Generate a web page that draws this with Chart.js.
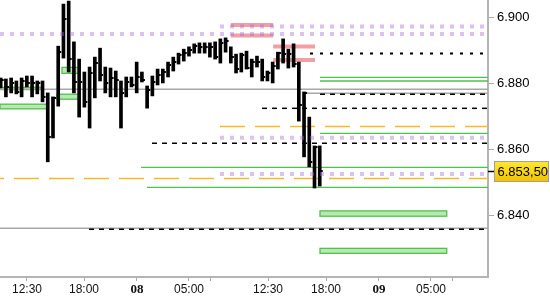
<!DOCTYPE html>
<html><head><meta charset="utf-8">
<script src="https://cdn.jsdelivr.net/npm/chart.js@4"></script>
<style>html,body{margin:0;padding:0;background:#fff}</style>
</head><body>
<canvas id="c" width="550" height="300"></canvas>
<script>
// OHLC bars (30-min), price points
const highs = [6881.6,6881.3,6881.6,6880.7,6881.6,6882.2,6882.2,6880.7,6880.7,6877.1,
  6875.9,6891.2,6903.9,6904.8,6892.5,6887.3,6883.4,6884.9,6887.9,6890.6,
  6884.9,6884.6,6883.7,6880.7,6881.9,6881.9,6886.4,6883.4,6879.2,6882.2,
  6884.3,6884.3,6886.4,6887.9,6889.1,6890.3,6891.0,6891.9,6892.2,6892.2,
  6892.2,6892.5,6893.4,6893.7,6891.0,6888.8,6889.1,6889.7,6887.3,6888.2,
  6887.3,6883.7,6886.4,6889.4,6893.4,6890.3,6891.9,6886.4,6877.4,6869.8,
  6861.1,6861.1];
const lows = [6878.6,6875.9,6877.1,6876.8,6875.9,6878.9,6875.9,6876.8,6874.4,6856.3,
  6863.5,6873.1,6887.6,6883.4,6877.1,6869.8,6872.8,6866.5,6875.6,6880.7,
  6877.1,6875.9,6875.9,6866.5,6875.9,6878.9,6877.1,6880.4,6872.5,6876.2,
  6879.5,6880.1,6881.9,6883.7,6885.8,6886.7,6888.2,6889.1,6889.1,6889.1,
  6887.9,6887.3,6886.1,6889.4,6886.1,6883.1,6883.4,6884.3,6881.9,6884.9,
  6880.7,6880.7,6880.1,6884.3,6886.1,6884.6,6884.9,6868.6,6857.8,6854.8,
  6848.4,6849.0];
const closes = [6881.0,6878.9,6880.1,6877.4,6880.7,6880.1,6880.1,6880.1,6875.9,6863.8,
  6875.6,6889.4,6899.4,6887.3,6880.4,6880.4,6874.4,6883.1,6886.1,6882.5,
  6880.1,6881.6,6881.0,6877.1,6880.4,6879.5,6881.9,6881.0,6878.0,6880.4,
  6882.5,6883.4,6885.5,6886.4,6888.5,6889.1,6890.0,6891.2,6891.0,6891.0,
  6891.0,6887.9,6892.2,6892.8,6887.9,6884.3,6888.5,6884.6,6886.4,6886.4,
  6881.9,6883.1,6885.2,6889.1,6888.8,6888.8,6885.8,6873.5,6877.1,6856.3,
  6860.9,6853.5];
const lastPrice = 6853.5;

const yTicks = [6840, 6860, 6880, 6900];
const xTickPos = [5.03, 15.93, 26.06, 36.0, 40.02, 51.11, 62.2, 72.33, 82.27, 86.29];
const xTickLabels = ['12:30','18:00','08','05:00','','12:30','18:00','09','05:00',''];
const xTickBold = [false,false,true,false,false,false,false,true,false,false];
const xRange = [-0.13, 93.17];
const yRange = [6821.56, 6905.13];

// horizontal levels: [price, fromBar, toBar]
const xs = xRange[0], xe = xRange[1];
const purpleLevels = [[6894.9, xs, xe], [6897.1, 41.93, xe], [6863.6, 41.93, xe], [6852.6, 41.93, xe]];
const pinkLevels = [[6897.6, 44.0, 52.1], [6894.4, 44.0, 52.1], [6891.1, 52.1, 60.1], [6887.0, 52.1, 60.1]];
const greenLevels = [[6881.8, 61.05, xe], [6880.7, 61.05, xe], [6864.9, 61.05, xe], [6854.65, 26.83, xe], [6848.6, 27.97, xe]];
const grayLevels = [[6878.2, xs, xe], [6877.0, 58.2, xe], [6836.25, xs, xe]];
const blackDashLevels = [[6876.7, 61.05, xe], [6872.45, 49.96, xe], [6861.9, 28.93, xe], [6835.95, 16.88, xe]];
const blackDotLevels = [[6889.0, 59.14, xe]];
const orangeLevels = [[6866.96, 41.93, xe, 0], [6851.3, xs, xe, 21]];
// zones: [fromBar, toBar, top, bottom]
const greenZones = [[xs, 8.99, 6873.7, 6872.3], [xs, 7.7, 6878.8, 6878.1],
  [11.72, 14.97, 6884.8, 6883.0], [10.76, 14.97, 6876.7, 6875.2],
  [61.05, 85.28, 6841.5, 6839.9], [61.05, 85.28, 6830.2, 6828.7]];

function levelSets(arr, color, width, dash, order) {
  return arr.map(l => ({
    type: 'line',
    data: [{x: l[1], y: l[0]}, {x: l[2], y: l[0]}],
    borderColor: color, borderWidth: width, borderDash: dash,
    borderDashOffset: l[3] || 0, pointRadius: 0, fill: false, tension: 0,
    borderCapStyle: 'butt', order: order
  }));
}

const tickImg = document.createElement('canvas');
tickImg.width = 8; tickImg.height = 2;
const tctx = tickImg.getContext('2d');
tctx.fillStyle = '#000'; tctx.fillRect(5, 0, 2, 2);

const barData = highs.map((h, i) => ({x: i, y: [lows[i], h]}));
const closeData = closes.map((c, i) => ({x: i, y: c}));

const datasets = [
  ...levelSets(purpleLevels, 'rgba(170,100,220,0.4)', 4, [4, 6], 1),
  {type: 'bar', data: barData, backgroundColor: '#000', borderWidth: 0, barThickness: 3, order: 2},
  {type: 'scatter', data: closeData, pointStyle: tickImg, pointRadius: 3, order: 2},
  ...levelSets(pinkLevels, 'rgba(230,80,90,0.55)', 4, [], 3),
  ...levelSets(blackDotLevels, '#000', 2, [3, 7], 4),
  ...levelSets(blackDashLevels, '#000', 1.5, [5, 5], 4),
  ...levelSets(orangeLevels, '#f8b828', 1.5, [25, 10], 5),
  ...levelSets(greenLevels, '#4ec24e', 1.3, [], 5),
  ...levelSets(grayLevels, '#a8a8a8', 1.5, [], 6)
];

const zonesPlugin = {
  id: 'zones',
  beforeDatasetsDraw(chart) {
    const {ctx, chartArea: a, scales: {x, y}} = chart;
    ctx.save();
    ctx.beginPath(); ctx.rect(a.left, a.top, a.right - a.left, a.bottom - a.top); ctx.clip();
    greenZones.forEach(z => {
      const x0 = x.getPixelForValue(z[0]), x1 = x.getPixelForValue(z[1]);
      const y0 = y.getPixelForValue(z[2]), y1 = y.getPixelForValue(z[3]);
      ctx.fillStyle = '#b8eab0';
      ctx.fillRect(x0, y0, x1 - x0, y1 - y0);
      ctx.strokeStyle = '#50c050'; ctx.lineWidth = 1.3;
      ctx.strokeRect(x0, y0, x1 - x0, y1 - y0);
    });
    ctx.restore();
  },
  afterDraw(chart) {
    const {ctx, chartArea: a, scales: {y}} = chart;
    const py = Math.round(y.getPixelForValue(lastPrice));
    ctx.save();
    ctx.strokeStyle = '#000'; ctx.lineWidth = 1.5;
    ctx.beginPath(); ctx.moveTo(a.right, py + 0.5); ctx.lineTo(a.right + 6, py + 0.5); ctx.stroke();
    const bx = a.right + 6.5, bw = 54, bh = 20, by = py - 9.5;
    const g = ctx.createLinearGradient(0, by, 0, by + bh);
    g.addColorStop(0, '#ffe830'); g.addColorStop(1, '#f2c200');
    ctx.fillStyle = g; ctx.fillRect(bx, by, bw, bh);
    ctx.strokeStyle = '#a0a0a0'; ctx.lineWidth = 1; ctx.strokeRect(bx, by, bw, bh);
    ctx.fillStyle = '#000'; ctx.font = '13px "Liberation Sans", Arial, sans-serif';
    ctx.textBaseline = 'middle'; ctx.textAlign = 'left';
    const s = lastPrice.toFixed(2).split('.');
    const ip = s[0];
    ctx.fillText(ip.slice(0, ip.length - 3) + '.' + ip.slice(-3) + ',' + s[1], bx + 3, py + 1);
    ctx.restore();
  }
};

new Chart(document.getElementById('c'), {
  type: 'bar',
  data: {datasets},
  plugins: [zonesPlugin],
  options: {
    responsive: false, animation: false, events: [],
    layout: {padding: 0, autoPadding: false},
    plugins: {legend: {display: false}, tooltip: {enabled: false}},
    scales: {
      x: {
        type: 'linear', min: xRange[0], max: xRange[1], offset: false,
        grid: {drawOnChartArea: false, drawTicks: true, tickLength: 4, color: '#aaa', offset: false},
        border: {display: true, color: '#b4b4b4', width: 2},
        afterBuildTicks(s) { s.ticks = xTickPos.map(v => ({value: v})); },
        afterFit(s) { s.height = 23; s.paddingLeft = 0; s.paddingRight = 0; },
        ticks: {
          autoSkip: false, maxRotation: 0, padding: 1, color: '#111',
          callback: (v, i) => xTickLabels[i],
          font: c => xTickBold[c.index]
            ? {family: '"Liberation Serif", "DejaVu Serif", serif', weight: 'bold', size: 13}
            : {family: '"Liberation Sans", Arial, sans-serif', size: 12}
        }
      },
      y: {
        type: 'linear', position: 'right', min: yRange[0], max: yRange[1],
        grid: {drawOnChartArea: false, drawTicks: true, tickLength: 6, color: '#aaa'},
        border: {display: true, color: '#b4b4b4', width: 2},
        afterBuildTicks(s) { s.ticks = yTicks.map(v => ({value: v})); },
        afterFit(s) { s.width = 62; s.paddingTop = 0; s.paddingBottom = 0; },
        ticks: {
          padding: 3, color: '#000',
          font: {family: '"Liberation Sans", Arial, sans-serif', size: 13},
          callback: v => Math.floor(v / 1000) + '.' + String(Math.round(v % 1000)).padStart(3, '0')
        }
      }
    }
  }
});
</script>
</body></html>
